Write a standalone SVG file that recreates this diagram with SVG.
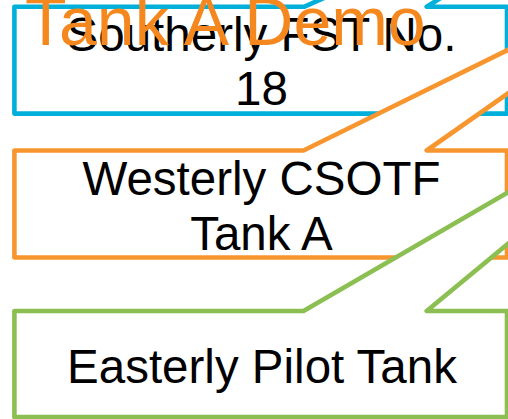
<svg xmlns="http://www.w3.org/2000/svg" width="508" height="419" viewBox="0 0 508 419">
<style>
.box{fill:#ffffff;stroke-width:4.6;stroke-linejoin:round}
.blue{stroke:#00B0DA}
.orange{stroke:#F7962E}
.green{stroke:#8CBF52}
.lbl{font-family:"Liberation Sans",Arial,sans-serif;font-size:47.5px;fill:#000000;text-anchor:middle}
.title{font-family:"Liberation Sans",Arial,sans-serif;font-size:68px;fill:#F5871F}
</style>
<g id="node-southerly">
<path class="box blue" d="M14.4,6.8 L304,6.8 L715,-175 L426.7,6.8 L507,6.8 L507,113.6 L14.4,113.6 Z"/>
<text class="lbl" x="261.5" y="51">Southerly FST No.</text>
<text class="lbl" x="261.5" y="105">18</text>
</g>
<g id="node-westerly">
<path class="box orange" d="M14.4,150.5 L303.5,150.5 L715,-52 L426.7,150.5 L507,150.5 L507,257.5 L14.4,257.5 Z"/>
<text class="lbl" x="261.5" y="195">Westerly CSOTF</text>
<text class="lbl" x="261.5" y="250">Tank A</text>
</g>
<g id="node-easterly">
<path class="box green" d="M14.4,311 L303.5,311 L717,71 L426.7,311 L507,311 L507,417 L14.4,417 Z"/>
<text class="lbl" x="262" y="383">Easterly Pilot Tank</text>
</g>
<g id="connectors"></g>
<g id="title">
<text class="title" x="25" y="45">Tank A Demo</text>
</g>
</svg>
